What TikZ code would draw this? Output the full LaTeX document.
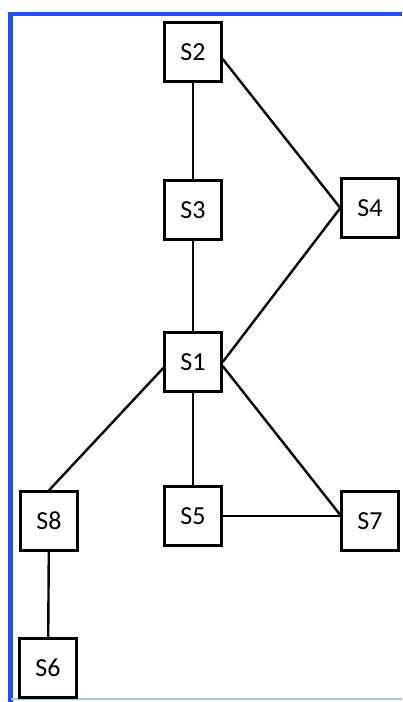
\documentclass[tikz,border=0pt]{standalone}
\usepackage{fontspec}
\setmainfont{Carlito}
\definecolor{framblue}{HTML}{1F4FF5}
\definecolor{framlight}{HTML}{A8C4F0}
\begin{document}
\begin{tikzpicture}[x=1pt,y=-1pt]
\tikzset{sbox/.style={draw=black, line width=2.4pt, fill=white, minimum width=57pt, minimum height=59pt, inner sep=0pt, font=\fontsize{26}{30}\selectfont},
         link/.style={black, line width=2.4pt}}
\useasboundingbox (0,0) rectangle (402,702);
% frame
\draw[framblue, line width=4.5pt] (10.5,702) -- (10.5,14) -- (402,14);
\draw[framlight, line width=1.5pt] (10.5,699) -- (402,699);
% nodes
\node[sbox] (S2) at (193,52) {S2};
\node[sbox] (S3) at (193,210) {S3};
\node[sbox] (S4) at (370,208) {S4};
\node[sbox] (S1) at (193,362) {S1};
\node[sbox] (S8) at (49,521) {S8};
\node[sbox] (S5) at (193,516) {S5};
\node[sbox] (S7) at (370,521) {S7};
\node[sbox] (S6) at (48,668) {S6};
% links
\draw[link] (S2) -- (S3);
\draw[link] (S3) -- (S1);
\draw[link] ([yshift=-7pt]S2.east) -- (S4.west);
\draw[link] (S1.east) -- (S4.west);
\draw[link] ([yshift=-6pt]S1.west) -- (S8.north);
\draw[link] (S1) -- (S5);
\draw[link] ([yshift=-4pt]S1.east) -- ([yshift=6pt]S7.west);
\draw[link] (S5.east) -- (S5.east -| S7.west);
\draw[link] (S8) -- (S6);
\end{tikzpicture}
\end{document}
